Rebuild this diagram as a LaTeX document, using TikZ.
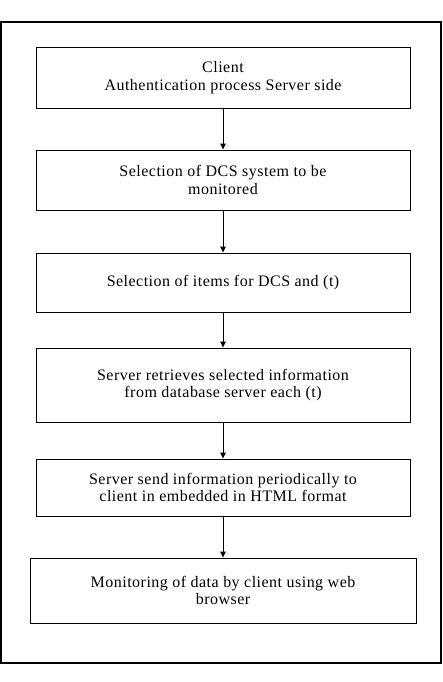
\documentclass[tikz,border=0pt]{standalone}
\usepackage{fontspec}
\setmainfont[LetterSpace=3]{Liberation Serif}
\usetikzlibrary{arrows.meta}
\begin{document}
\begin{tikzpicture}[x=1pt,y=-1pt,
  stepbox/.style={draw, line width=0.9pt, minimum width=374pt, align=center, inner sep=0pt,
    font=\fontsize{16}{17.8}\selectfont},
  flow/.style={-{Triangle[length=6pt,width=5.5pt]}, line width=0.9pt}]
\useasboundingbox (0,0) rectangle (442,682);
\draw[line width=1.2pt] (1,22) rectangle (441,663);
\node[stepbox, minimum height=61pt] (b1) at (223,77.5) {Client\\Authentication process Server side};
\node[stepbox, minimum height=60pt] (b2) at (223,180) {Selection of DCS system to be\\monitored};
\node[stepbox, minimum height=59pt] (b3) at (223,282.5) {Selection of items for DCS and (t)};
\node[stepbox, minimum height=74pt] (b4) at (223,385) {Server retrieves selected information\\from database server each (t)};
\node[stepbox, minimum height=57pt] (b5) at (223,487.5) {Server send information periodically to\\client in embedded in HTML format};
\node[stepbox, minimum height=65pt, minimum width=386pt] (b6) at (223,590.5) {Monitoring of data by client using web\\browser};
\draw[flow] (b1) -- (b2);
\draw[flow] (b2) -- (b3);
\draw[flow] (b3) -- (b4);
\draw[flow] (b4) -- (b5);
\draw[flow] (b5) -- (b6);
\end{tikzpicture}
\end{document}
